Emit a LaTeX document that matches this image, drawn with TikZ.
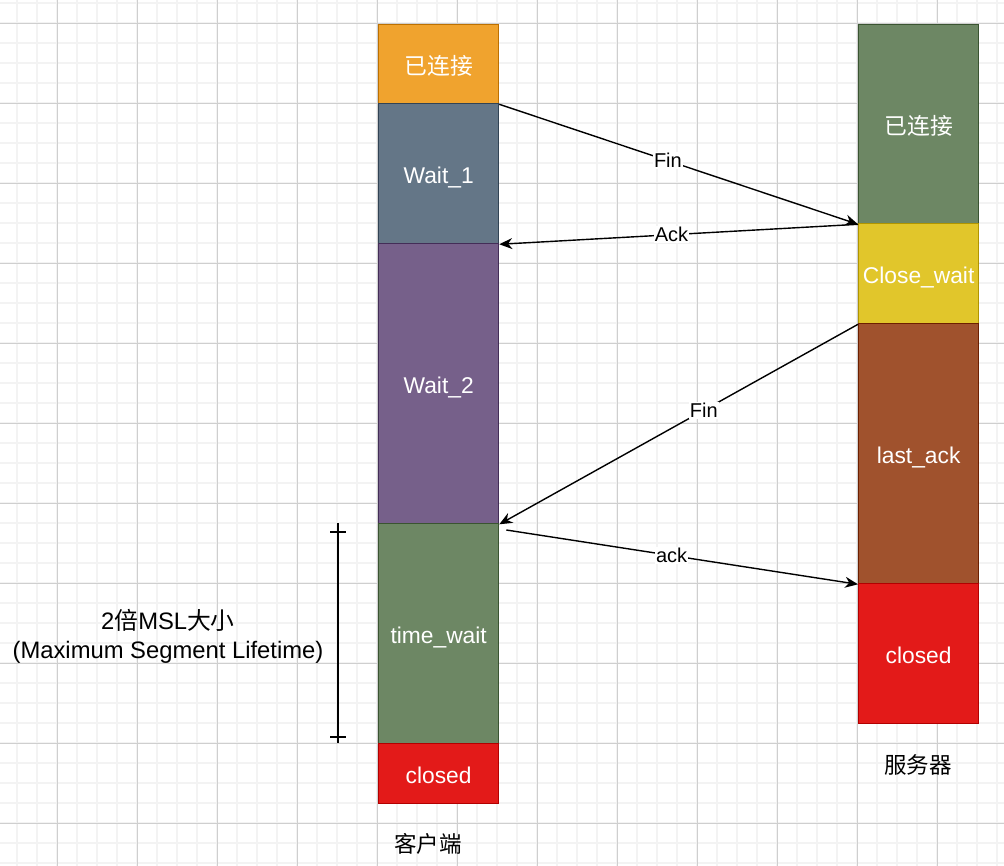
\documentclass[tikz,border=0pt]{standalone}
\usepackage{fontspec}
\setmainfont{Liberation Sans}
\newfontfamily\cjk{Noto Sans CJK SC}
\usetikzlibrary{arrows.meta,calc}
\definecolor{gminor}{HTML}{F3F3F3}
\definecolor{gmajor}{HTML}{CFCFCF}
\definecolor{orF}{HTML}{F0A32E}\definecolor{orS}{HTML}{BD7000}
\definecolor{slF}{HTML}{647687}\definecolor{slS}{HTML}{314354}
\definecolor{puF}{HTML}{76608A}\definecolor{puS}{HTML}{432D57}
\definecolor{grF}{HTML}{6D8764}\definecolor{grS}{HTML}{3A5431}
\definecolor{yeF}{HTML}{E1C62B}\definecolor{yeS}{HTML}{B09500}
\definecolor{brF}{HTML}{A0522D}\definecolor{brS}{HTML}{6D1F00}
\definecolor{reF}{HTML}{E31A19}\definecolor{reS}{HTML}{B20000}
\tikzset{
  stbox/.style={draw, line width=1.3pt, minimum width=120pt, inner sep=0pt, anchor=north west, text=white,
     font=\fontsize{22.8}{27}\selectfont, text height=20pt, text depth=0pt},
  msg/.style={draw=black, line width=1.4pt, -{Stealth[length=13pt,width=11pt]}},
  msglbl/.style={fill=white, inner sep=1pt, text=black, font=\fontsize{20}{24}\selectfont},
  captext/.style={font=\fontsize{22.5}{27}\selectfont\cjk, text=black}
}
\begin{document}
\begin{tikzpicture}[x=1pt,y=-1pt]
\useasboundingbox (0,0) rectangle (1004,866);
\fill[white] (0,0) rectangle (1004,866);
% grid
\foreach \x in {17,37,...,1004} \draw[gminor, line width=1.6pt] (\x,0) -- (\x,866);
\foreach \y in {3,23,...,866} \draw[gminor, line width=1.6pt] (0,\y) -- (1004,\y);
\foreach \x in {57,137,...,1004} \draw[gmajor, line width=0.9pt] (\x,0) -- (\x,866);
\foreach \y in {23,103,...,866} \draw[gmajor, line width=0.9pt] (0,\y) -- (1004,\y);
% client
\node[stbox, fill=orF, draw=orS, minimum height=79pt] (c0) at (378,24) {\cjk 已连接};
\node[stbox, fill=slF, draw=slS, minimum height=140pt] (c1) at (378,103) {Wait\_1};
\node[stbox, fill=puF, draw=puS, minimum height=280pt] (c2) at (378,243) {Wait\_2};
\node[stbox, fill=grF, draw=grS, minimum height=220pt] (c3) at (378,523) {time\_wait};
\node[stbox, fill=reF, draw=reS, minimum height=60pt] (c4) at (378,743) {closed};
% server
\node[stbox, fill=grF, draw=grS, minimum height=199pt] (s0) at (858,24) {\cjk 已连接};
\node[stbox, fill=yeF, draw=yeS, minimum height=100pt] (s1) at (858,223) {Close\_wait};
\node[stbox, fill=brF, draw=brS, minimum height=260pt] (s2) at (858,323) {last\_ack};
\node[stbox, fill=reF, draw=reS, minimum height=140pt] (s3) at (858,583) {closed};
% captions
\node[captext] (capc) at (428,844) {客户端};
\node[captext] (caps) at (918,765) {服务器};
% messages
\draw[msg] (c0.south east) -- node[msglbl, pos=0.47] {Fin} (s0.south west);
\draw[msg] (s0.south west) -- node[msglbl, pos=0.52] {Ack} (c1.south east);
\draw[msg] (s1.south west) -- node[msglbl, pos=0.43] {Fin} (c2.south east);
\coordinate (ackstart) at ($(c3.north east)+(7,7)$);
\draw[msg] (ackstart) -- node[msglbl, pos=0.47] {ack} (s2.south west);
% MSL bracket
\coordinate (bt) at (338,523);
\coordinate (bb) at (338,743);
\draw[line width=1.4pt] (bt) -- (bb);
\draw[line width=1.4pt] (330,532) -- (346,532);
\draw[line width=1.4pt] (330,737) -- (346,737);
\node[align=center, font=\fontsize{23.8}{29}\selectfont, text=black] (msl) at (168,636)
  {2{\cjk 倍}MSL{\cjk 大小}\\(Maximum Segment Lifetime)};
\end{tikzpicture}
\end{document}
